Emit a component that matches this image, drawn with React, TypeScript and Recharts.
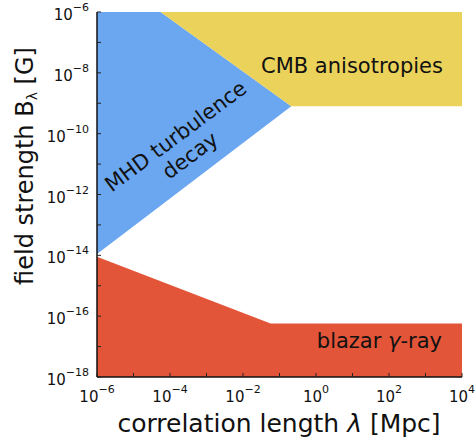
import { ComposedChart, Area, XAxis, YAxis } from "recharts";

// log10 decades shown on each axis
const xTicks = [1e-6, 1e-5, 1e-4, 1e-3, 1e-2, 1e-1, 1, 1e1, 1e2, 1e3, 1e4];
const yTicks = [
	1e-18, 1e-17, 1e-16, 1e-15, 1e-14, 1e-13, 1e-12, 1e-11, 1e-10, 1e-9, 1e-8,
	1e-7, 1e-6,
];

// CMB anisotropies (yellow band, runs up to the top of the frame)
const cmbLambda = [5.5e-5, 0.21, 1e4];
const cmbLow = [1e-6, 8e-10, 8e-10];
const cmbHigh = [1e-6, 1e-6, 1e-6];

// MHD turbulence decay (blue wedge)
const mhdLambda = [1e-6, 5.5e-5, 0.21];
const mhdLow = [1.1e-14, 4.3e-13, 8e-10];
const mhdHigh = [1e-6, 1e-6, 8e-10];

// blazar gamma-ray lower bound (red)
const blazarLambda = [1e-6, 0.057, 1e4];
const blazarLow = [1e-18, 1e-18, 1e-18];
const blazarHigh = [9e-15, 5.7e-17, 5.7e-17];

const FONT = "'DejaVu Sans', sans-serif";
const FRAME = { stroke: "#111", strokeWidth: 1.5 };

const toRows = (xs: number[], lo: number[], hi: number[]) =>
	xs.map((x, i) => ({ lambda: x, band: [lo[i], hi[i]] }));

const expOf = (v: number) => Math.round(Math.log10(v));

const expText = (e: number) => (e < 0 ? `\u2212${-e}` : `${e}`);

type TickProps = { x?: number; y?: number; payload?: { value: number } };

// bottom axis: inward tick + "10^n" label on even decades
const BottomTick = ({ x = 0, y = 0, payload }: TickProps) => {
	const e = expOf(payload?.value ?? 1);
	return (
		<g>
			<line x1={x} x2={x} y1={y} y2={y - 4} stroke="#222" />
			{e % 2 === 0 && (
				<text x={x} y={y + 25} textAnchor="middle" fontFamily={FONT} fontSize={15} fill="#111">
					10
					<tspan dy={-9} fontSize={11}>
						{expText(e)}
					</tspan>
				</text>
			)}
		</g>
	);
};

const LeftTick = ({ x = 0, y = 0, payload }: TickProps) => {
	const e = expOf(payload?.value ?? 1);
	return (
		<g>
			<line x1={x} x2={x + 4} y1={y} y2={y} stroke="#222" />
			{e % 2 === 0 && (
				<text x={x - 8} y={y + 8} textAnchor="end" fontFamily={FONT} fontSize={15} fill="#111">
					10
					<tspan dy={-9} fontSize={11}>
						{expText(e)}
					</tspan>
				</text>
			)}
		</g>
	);
};

const TopTick = ({ x = 0, y = 0 }: TickProps) => (
	<line x1={x} x2={x} y1={y} y2={y + 4} stroke="#222" />
);

const RightTick = ({ x = 0, y = 0 }: TickProps) => (
	<line x1={x} x2={x - 4} y1={y} y2={y} stroke="#222" />
);

export default function App() {
	return (
		<div style={{ position: "absolute", left: 0, top: 0, width: 475, height: 440, background: "#fff" }}>
			<ComposedChart width={475} height={440} margin={{ top: 12, right: 13, left: 0, bottom: 0 }}>
				<Area
					data={toRows(blazarLambda, blazarLow, blazarHigh)}
					dataKey="band"
					type="linear"
					stroke="none"
					fill="#E25539"
					fillOpacity={1}
					isAnimationActive={false}
				/>
				<Area
					data={toRows(mhdLambda, mhdLow, mhdHigh)}
					dataKey="band"
					type="linear"
					stroke="none"
					fill="#6BA7F0"
					fillOpacity={1}
					isAnimationActive={false}
				/>
				<Area
					data={toRows(cmbLambda, cmbLow, cmbHigh)}
					dataKey="band"
					type="linear"
					stroke="none"
					fill="#EBD35B"
					fillOpacity={1}
					isAnimationActive={false}
				/>
				{/* axes come after the fills so the frame and ticks sit on top */}
				<XAxis
					dataKey="lambda"
					type="number"
					scale="log"
					domain={[1e-6, 1e4]}
					allowDataOverflow
					ticks={xTicks}
					interval={0}
					height={63}
					tickSize={0}
					tickMargin={0}
					tickLine={false}
					tick={<BottomTick />}
					axisLine={FRAME}
				/>
				<XAxis
					xAxisId="top"
					orientation="top"
					type="number"
					scale="log"
					domain={[1e-6, 1e4]}
					allowDataOverflow
					ticks={xTicks}
					interval={0}
					height={0}
					tickSize={0}
					tickMargin={0}
					tickLine={false}
					tick={<TopTick />}
					axisLine={FRAME}
				/>
				<YAxis
					type="number"
					scale="log"
					domain={[1e-18, 1e-6]}
					allowDataOverflow
					ticks={yTicks}
					interval={0}
					width={97}
					tickSize={0}
					tickMargin={0}
					tickLine={false}
					tick={<LeftTick />}
					axisLine={FRAME}
				/>
				<YAxis
					yAxisId="right"
					orientation="right"
					type="number"
					scale="log"
					domain={[1e-18, 1e-6]}
					allowDataOverflow
					ticks={yTicks}
					interval={0}
					width={0}
					tickSize={0}
					tickMargin={0}
					tickLine={false}
					tick={<RightTick />}
					axisLine={{ stroke: "#333", strokeWidth: 1.8 }}
				/>
			</ComposedChart>
			<svg
				width={475}
				height={440}
				style={{ position: "absolute", left: 0, top: 0, pointerEvents: "none" }}
				fontFamily={FONT}
			>
				<text x={261} y={73} fontSize={21} fill="#111">
					CMB anisotropies
				</text>
				<g transform="rotate(-36.7 180 142)">
					<text x={180} y={142} fontSize={21} textAnchor="middle" fill="#111">
						MHD turbulence
					</text>
					<text x={180} y={166} fontSize={21} textAnchor="middle" fill="#111">
						decay
					</text>
				</g>
				<text x={442} y={348} fontSize={21} textAnchor="end" fill="#111">
					blazar{"  "}
					<tspan fontStyle="italic">{"\u03b3"}</tspan>-ray
				</text>
				<text x={279} y={432} fontSize={25} textAnchor="middle" fill="#111">
					correlation length <tspan fontStyle="italic">{"\u03bb"}</tspan>
					{"  "}[Mpc]
				</text>
				<g transform="rotate(-90 33 166)">
					<text x={33} y={166} fontSize={24} textAnchor="middle" fill="#111">
						field strength B
						<tspan fontSize={14} dy={4}>
							{"\u03bb"}
						</tspan>
						<tspan dy={-4}> [G]</tspan>
					</text>
				</g>
			</svg>
		</div>
	);
}
